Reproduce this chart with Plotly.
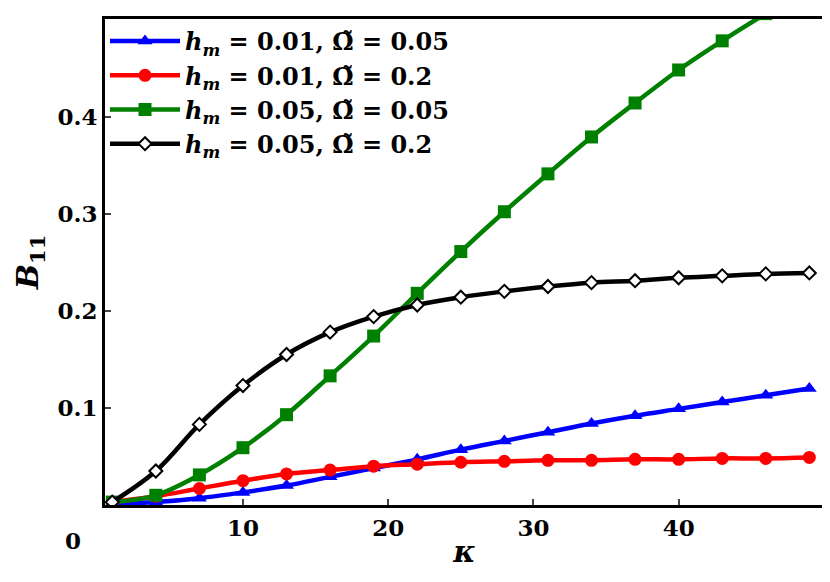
import plotly.graph_objects as go

kappa = [1, 4, 7, 10, 13, 16, 19, 22, 25, 28, 31, 34, 37, 40, 43, 46, 49]
b_blue = [0.001, 0.003, 0.007, 0.013, 0.020, 0.029, 0.038, 0.047, 0.057, 0.066, 0.075, 0.084, 0.092, 0.099, 0.106, 0.113, 0.120]
b_red = [0.003, 0.009, 0.017, 0.025, 0.032, 0.036, 0.040, 0.042, 0.044, 0.045, 0.046, 0.046, 0.047, 0.047, 0.048, 0.048, 0.049]
b_green = [0.003, 0.010, 0.031, 0.059, 0.093, 0.133, 0.174, 0.218, 0.261, 0.302, 0.341, 0.379, 0.414, 0.448, 0.478, 0.506, 0.532]
b_black = [0.003, 0.035, 0.083, 0.123, 0.155, 0.178, 0.194, 0.206, 0.214, 0.220, 0.225, 0.229, 0.231, 0.234, 0.236, 0.238, 0.239]
names = [
    "<b><i>h<sub>m</sub></i> = 0.01, Ω̃ = 0.05</b>",
    "<b><i>h<sub>m</sub></i> = 0.01, Ω̃ = 0.2</b>",
    "<b><i>h<sub>m</sub></i> = 0.05, Ω̃ = 0.05</b>",
    "<b><i>h<sub>m</sub></i> = 0.05, Ω̃ = 0.2</b>",
]

fig = go.Figure()
styles = [
    (b_blue, "#0000ff", dict(symbol="triangle-up", size=13, color="#0000ff")),
    (b_red, "#ff0000", dict(symbol="circle", size=13, color="#ff0000")),
    (b_green, "#008000", dict(symbol="square", size=13, color="#008000")),
    (b_black, "black", dict(symbol="diamond", size=10, color="white", line=dict(color="black", width=2))),
]
for (y, c, m), n in zip(styles, names):
    fig.add_trace(go.Scatter(x=kappa, y=y, mode="lines+markers", name=n,
                             line=dict(color=c, width=4.5, shape="spline"), marker=m))

font = dict(family="DejaVu Serif", size=23, color="black")
fig.update_layout(
    width=830, height=582, margin=dict(l=97, r=14, t=8, b=85),
    plot_bgcolor="white", paper_bgcolor="white", font=font,
    showlegend=True,
    legend=dict(x=0.0, y=1.0, bgcolor="rgba(0,0,0,0)", font=dict(family="DejaVu Serif", size=24),
                tracegroupgap=0, itemwidth=70),
)
fig.update_xaxes(range=[0.5, 50.01], tickvals=[10, 20, 30, 40, 50],
                 ticktext=["<b>10</b>", "<b>20</b>", "<b>30</b>", "<b>40</b>", "<b>50</b>"],
                 showgrid=False, zeroline=False,
                 showline=True, linecolor="black", linewidth=3, mirror=True,
                 ticks="inside", ticklen=6, tickwidth=2,
                 title=dict(text="<b><i>κ</i></b>", font=dict(size=30), standoff=2))
fig.update_yaxes(range=[0, 0.5005], tickvals=[0.1, 0.2, 0.3, 0.4, 0.5],
                 ticktext=["<b>0.1</b>", "<b>0.2</b>", "<b>0.3</b>", "<b>0.4</b>", "<b>0.5</b>"],
                 showgrid=False, zeroline=False,
                 showline=True, linecolor="black", linewidth=3, mirror=True,
                 ticks="inside", ticklen=6, tickwidth=2,
                 title=dict(text="<b><i>B</i><sub>11</sub></b>", font=dict(size=30), standoff=10))
fig.add_annotation(text="<b>0</b>", x=0, y=0, xref="paper", yref="paper", xanchor="right", yanchor="top",
                   xshift=-22, yshift=-20, showarrow=False, font=font)
fig.write_html("out.html")
